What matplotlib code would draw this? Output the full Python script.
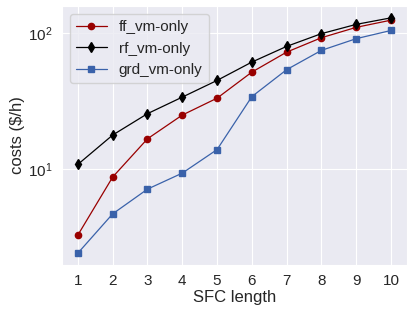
import matplotlib
matplotlib.use("Agg")
import matplotlib.pyplot as plt
import seaborn as sns

sfc_length = [1, 2, 3, 4, 5, 6, 7, 8, 9, 10]
ff_vm_only = [3.3, 8.8, 16.8, 25.1, 33.4, 51.9, 72.8, 92.9, 110.7, 125.0]
rf_vm_only = [10.9, 17.9, 25.7, 34.0, 45.1, 61.5, 80.2, 99.5, 116.4, 130.0]
grd_vm_only = [2.43, 4.72, 7.17, 9.4, 14.0, 34.3, 54.1, 75.0, 91.4, 105.0]

sns.set_style("darkgrid")
plt.rcParams["font.family"] = ["Liberation Sans", "DejaVu Sans"]

fig, ax = plt.subplots(figsize=(4.15, 3.15), dpi=100)
ax.plot(sfc_length, ff_vm_only, color="#990000", marker="o", markersize=4.5, linewidth=0.9, label="ff_vm-only")
ax.plot(sfc_length, rf_vm_only, color="black", marker="d", markersize=5, linewidth=0.9, label="rf_vm-only")
ax.plot(sfc_length, grd_vm_only, color="#3A62AA", marker="s", markersize=4.5, linewidth=0.9, label="grd_vm-only")
ax.set_yscale("log")
ax.set_ylim(2.0, 158)
ax.set_xticks(sfc_length)
ax.tick_params(labelsize=11)
ax.set_xlabel("SFC length", fontsize=12, labelpad=1)
ax.set_ylabel("costs (\\$/h)", fontsize=12, labelpad=2)
ax.legend(loc="upper left", fontsize=11)
fig.subplots_adjust(left=0.15, right=0.98, bottom=0.16, top=0.98)
fig.savefig("out.png", dpi=100)
